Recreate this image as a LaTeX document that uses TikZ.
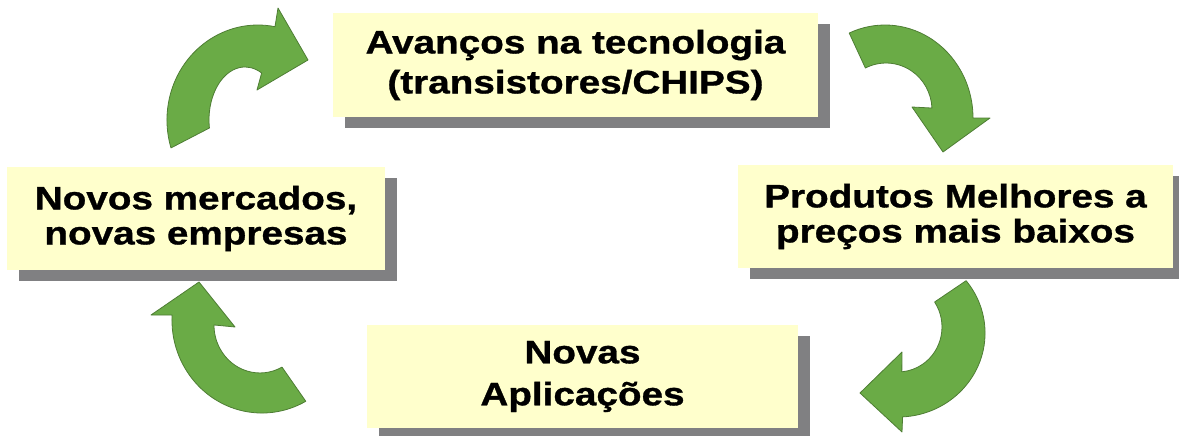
\documentclass[tikz,border=0pt]{standalone}
\usepackage{fontspec}
\newfontfamily\boxfont[FakeStretch=1.19, FakeBold=1]{Liberation Sans}
\usepackage{tikz}
\usetikzlibrary{shadows}
\definecolor{boxyellow}{RGB}{255,255,204}
\definecolor{shadowgray}{RGB}{128,128,130}
\definecolor{arrowgreen}{RGB}{106,171,70}
\definecolor{arrowedge}{RGB}{78,125,52}
\newcommand{\cyclefont}[1]{\boxfont\bfseries\fontsize{32.5}{#1}\selectfont}
\tikzstyle{block} = [rectangle, fill=boxyellow, inner sep=0pt, align=center, general shadow={fill=shadowgray, shadow xshift=12pt, shadow yshift=-11pt}]
\tikzstyle{turn} = [fill=arrowgreen, draw=arrowedge, line width=0.8pt, line join=round]

\begin{document}
\begin{tikzpicture}[x=1pt, y=-1pt]
	\useasboundingbox (0,0) rectangle (1179,436);
	% the four stages
	\node (TECH) [block, minimum width=485pt, minimum height=104pt, font=\cyclefont{40}] at (575.5,65)
		{Avanços na tecnologia\\(transistores/CHIPS)};
	\node (PRODUCTS) [block, minimum width=435pt, minimum height=103pt, font=\cyclefont{35}] at (955.5,216.5)
		{Produtos Melhores a\\preços mais baixos};
	\node (APPS) [block, minimum width=431pt, minimum height=103pt, font=\cyclefont{42}] at (582.5,376.5)
		{Novas\\Aplicações};
	\node (MARKETS) [block, minimum width=378pt, minimum height=103pt, font=\cyclefont{35}] at (196,218.5)
		{Novos mercados,\\novas empresas};
	% curved arrows, clockwise
	\filldraw[turn] (171,147.9) -- (209.4,128) arc[start angle=-188.7, end angle=-62.4, x radius=36, y radius=53]
		-- (257,90) -- (308,60) -- (278,8)
		-- (275,26.7) arc[start angle=-79.2, end angle=-197.1, x radius=91, y radius=95] -- cycle;
	\filldraw[turn] (849.2,33) -- (865.4,68) arc[start angle=-116.6, end angle=-2.4, x radius=46, y radius=47]
		-- (912,107) -- (943,152) -- (990,118)
		-- (973,118) arc[start angle=0, end angle=-114, x radius=88, y radius=93] -- cycle;
	\filldraw[turn] (966.1,280.7) -- (934.6,302) arc[start angle=-33.7, end angle=85, x radius=44, y radius=45]
		-- (902,352) -- (860,393) -- (902,432)
		-- (902.6,416.9) arc[start angle=87, end angle=-38.5, x radius=87, y radius=84] -- cycle;
	\filldraw[turn] (305.8,401.3) -- (282,367.1) arc[start angle=61.4, end angle=180, x radius=46, y radius=48]
		-- (235,327) -- (199,282) -- (151,315)
		-- (172.1,315) arc[start angle=183.1, end angle=60.9, x radius=90, y radius=93] -- cycle;
\end{tikzpicture}
\end{document}
